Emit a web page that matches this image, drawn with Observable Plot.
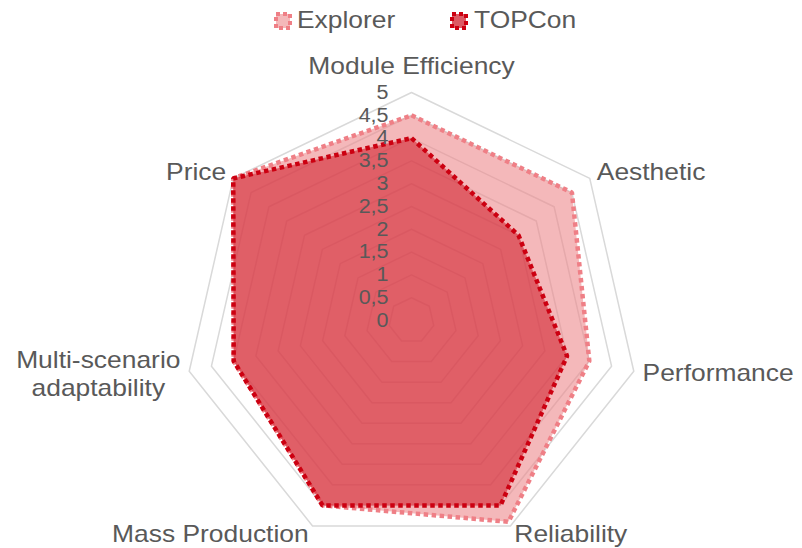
<!DOCTYPE html>
<html><head><meta charset="utf-8">
<script src="https://cdn.jsdelivr.net/npm/d3@7"></script>
<script src="https://cdn.jsdelivr.net/npm/@observablehq/plot@0.6"></script>
<style>
body{margin:0;background:#fff;font-family:"Liberation Sans",Arial,sans-serif;}
#wrap{position:relative;width:802px;height:548px;overflow:hidden;background:#fff}
#legend{position:relative;height:40px;}
.sw{position:absolute;top:11px;width:20px;height:20px}
.lt{position:absolute;top:6px;font-size:24px;color:#595959;transform:scaleX(1.1);transform-origin:0 0;line-height:28px;white-space:nowrap}
</style></head><body>
<div id="wrap"><div id="legend"></div><div id="chart"></div></div>
<script>
// ---- data ----
const categories = ["Module Efficiency", "Aesthetic", "Performance", "Reliability", "Mass Production", "Multi-scenario\nadaptability", "Price"];
const seriesNames = ["Explorer", "TOPCon"];
const explorerValues = [4.5, 4.5, 4.0, 4.9, 4.5, 4.0, 5.0];
const topconValues = [4.0, 3.0, 3.5, 4.5, 4.5, 4.0, 5.0];
const tickValues = [0, 0.5, 1, 1.5, 2, 2.5, 3, 3.5, 4, 4.5, 5];
const tickLabels = ["0", "0,5", "1", "1,5", "2", "2,5", "3", "3,5", "4", "4,5", "5"];

// ---- styles ----
const lineColors = ["#ef7f86", "#cc0011"];
const fillColors = ["#ed888c", "#d22330"];
const textColor = "#595959";
const W = 802, H = 508, CX = 411, CY = 280, K = 45.6; // px per unit
const SX = 1.1;
const font = '"Liberation Sans", Arial, sans-serif';
const DASH = "4.5 3.5";

const legend = document.getElementById("legend");
const legPos = [[273, 297], [449, 474]];
seriesNames.forEach((n, i) => {
  legend.insertAdjacentHTML("beforeend",
    `<svg class="sw" style="left:${legPos[i][0]}px" width="20" height="20"><rect x="3" y="3" width="14" height="14" fill="${fillColors[i]}" fill-opacity="${i ? 0.75 : 0.6}" stroke="${lineColors[i]}" stroke-width="4" stroke-dasharray="4 3"/></svg>` +
    `<span class="lt" style="left:${legPos[i][1]}px">${n}</span>`);
});

const N = categories.length;
const ang = i => 2 * Math.PI * i / N;
const pt = (i, v) => ({x: v * Math.sin(ang(i)), y: v * Math.cos(ang(i))});

const rings = tickValues.filter(t => t > 0).flatMap(t => categories.map((c, i) => ({level: t, ...pt(i, t)})));
const series = [explorerValues, topconValues].map(vals => vals.map((v, i) => ({cat: categories[i], ...pt(i, v)})));

const maxV = tickValues[tickValues.length - 1];
const labelPts = categories.map((name, i) => {
  const s = Math.sin(ang(i)), c = Math.cos(ang(i));
  const off = (9 + (Math.abs(c) > 0.95 ? 17 : 0)) / K;
  const anchor = Math.abs(s) < 0.1 ? "middle" : s > 0 ? "start" : "end";
  return {name, x: (maxV + off) * s, y: (maxV + off) * c, anchor, multi: name.includes("\n")};
});

const cv = document.createElement("canvas").getContext("2d");
cv.font = `24px ${font}`;
const multiHalf = d => Math.max(...d.name.split("\n").map(l => cv.measureText(l).width)) * SX / 2;

const labelMarks = ["start", "end", "middle"].map(a =>
  Plot.text(labelPts.filter(d => d.anchor === a && !d.multi), {
    x: "x", y: "y", text: "name", textAnchor: a, lineAnchor: "middle",
    fontSize: 24, fill: textColor, fontFamily: font
  }));
const multiMarks = labelPts.filter(d => d.multi).map(d => Plot.text([d], {
  x: "x", y: "y", text: "name", textAnchor: "middle", lineAnchor: "middle", lineHeight: 1.17,
  dx: -multiHalf(d), fontSize: 24, fill: textColor, fontFamily: font
}));

const chart = Plot.plot({
  width: W, height: H, margin: 0,
  style: {fontFamily: font, background: "white", overflow: "visible"},
  x: {domain: [-CX / K, (W - CX) / K], axis: null},
  y: {domain: [-(H - CY) / K, CY / K], axis: null},
  marks: [
    Plot.line(rings, {x: "x", y: "y", z: "level", curve: "linear-closed", stroke: "#d9d9d9", strokeWidth: 1.5}),
    ...series.map((pts, k) => Plot.line(pts, {
      x: "x", y: "y", curve: "linear-closed",
      fill: fillColors[k], fillOpacity: 0.6,
      stroke: lineColors[k], strokeWidth: 4.5, strokeDasharray: DASH,
      strokeLinecap: "butt", strokeLinejoin: "miter"
    })),
    Plot.text(tickValues, {
      x: () => 0, y: d => d, text: (d, i) => tickLabels[i],
      textAnchor: "end", lineAnchor: "middle", dx: -23, fontSize: 19.5, fill: textColor, fontFamily: font
    }),
    ...labelMarks,
    ...multiMarks
  ]
});

document.getElementById("chart").appendChild(chart);

// slightly widen text horizontally (the reference glyphs are stretched)
chart.querySelectorAll("text").forEach(t => {
  const spans = t.querySelectorAll("tspan");
  const els = spans.length ? Array.from(spans) : [t];
  els.forEach(el => {
    const len = el.getComputedTextLength();
    if (len > 0) {
      el.setAttribute("textLength", (len * SX).toFixed(2));
      el.setAttribute("lengthAdjust", "spacingAndGlyphs");
    }
  });
});
</script>
</body></html>
